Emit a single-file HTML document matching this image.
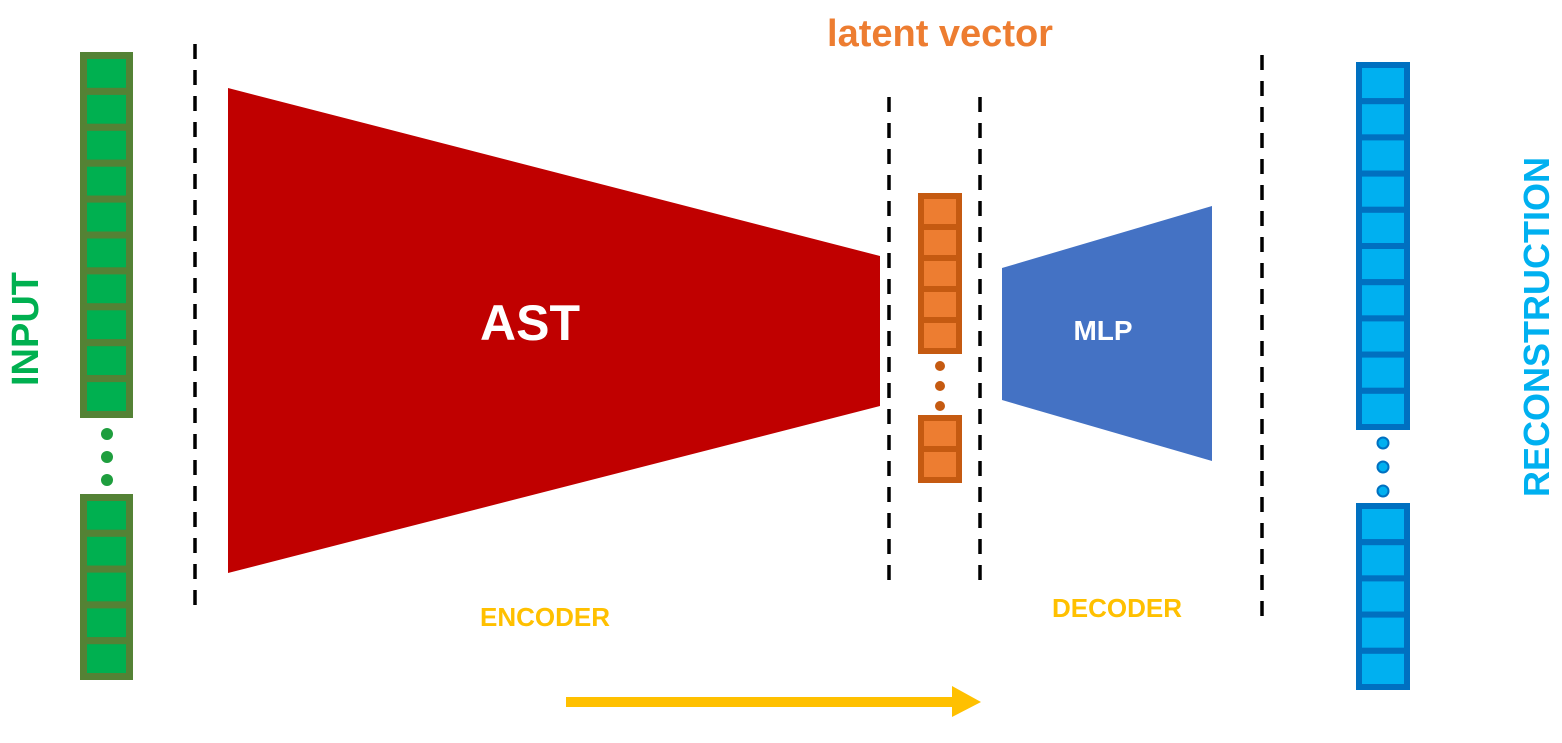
<!DOCTYPE html>
<html><head><meta charset="utf-8"><style>
html,body{margin:0;padding:0;background:#fff;}
svg{display:block;}
text{font-family:"Liberation Sans",sans-serif;font-weight:bold;}
</style></head><body>
<svg width="1562" height="743" viewBox="0 0 1562 743" xmlns="http://www.w3.org/2000/svg">
<rect width="1562" height="743" fill="#fff"/>
<g stroke="#000" stroke-width="3.5" stroke-dasharray="15,11">
<line x1="195" y1="44" x2="195" y2="610"/>
<line x1="889" y1="97" x2="889" y2="583"/>
<line x1="980" y1="97" x2="980" y2="583"/>
<line x1="1262" y1="55" x2="1262" y2="620"/>
</g>
<polygon points="228,88 880,256 880,406 228,573" fill="#c00000"/>
<text x="530" y="340" font-size="50" fill="#fff" text-anchor="middle">AST</text>
<polygon points="1002,268 1212,206 1212,461 1002,400" fill="#4472c4"/>
<text x="1103" y="340" font-size="28" fill="#fff" text-anchor="middle">MLP</text>
<g fill="#00b050" stroke="#548235" stroke-width="7">
<rect x="83.5" y="55.5" width="46" height="35.9"/><rect x="83.5" y="91.4" width="46" height="35.9"/>
<rect x="83.5" y="127.3" width="46" height="35.9"/><rect x="83.5" y="163.2" width="46" height="35.9"/>
<rect x="83.5" y="199.1" width="46" height="35.9"/><rect x="83.5" y="235" width="46" height="35.9"/>
<rect x="83.5" y="270.9" width="46" height="35.9"/><rect x="83.5" y="306.8" width="46" height="35.9"/>
<rect x="83.5" y="342.7" width="46" height="35.9"/><rect x="83.5" y="378.6" width="46" height="35.9"/>
<rect x="83.5" y="497.5" width="46" height="35.8"/><rect x="83.5" y="533.3" width="46" height="35.8"/>
<rect x="83.5" y="569.1" width="46" height="35.8"/><rect x="83.5" y="604.9" width="46" height="35.8"/>
<rect x="83.5" y="640.7" width="46" height="35.8"/>
</g>
<g fill="#1e9e3e"><circle cx="107" cy="434" r="6"/><circle cx="107" cy="457" r="6"/><circle cx="107" cy="480" r="6"/></g>
<g fill="#ed7d31" stroke="#c55a11" stroke-width="6">
<rect x="921" y="196" width="38" height="31"/><rect x="921" y="227" width="38" height="31"/>
<rect x="921" y="258" width="38" height="31"/><rect x="921" y="289" width="38" height="31"/>
<rect x="921" y="320" width="38" height="31"/>
<rect x="921" y="418" width="38" height="31"/><rect x="921" y="449" width="38" height="31"/>
</g>
<g fill="#c55a11"><circle cx="940" cy="366" r="5"/><circle cx="940" cy="386" r="5"/><circle cx="940" cy="406" r="5"/></g>
<g fill="#00b0f0" stroke="#0070c0" stroke-width="6">
<rect x="1359" y="65" width="48" height="36.2"/><rect x="1359" y="101.2" width="48" height="36.2"/>
<rect x="1359" y="137.4" width="48" height="36.2"/><rect x="1359" y="173.6" width="48" height="36.2"/>
<rect x="1359" y="209.8" width="48" height="36.2"/><rect x="1359" y="246" width="48" height="36.2"/>
<rect x="1359" y="282.2" width="48" height="36.2"/><rect x="1359" y="318.4" width="48" height="36.2"/>
<rect x="1359" y="354.6" width="48" height="36.2"/><rect x="1359" y="390.8" width="48" height="36.2"/>
<rect x="1359" y="506" width="48" height="36.2"/><rect x="1359" y="542.2" width="48" height="36.2"/>
<rect x="1359" y="578.4" width="48" height="36.2"/><rect x="1359" y="614.6" width="48" height="36.2"/>
<rect x="1359" y="650.8" width="48" height="36.2"/>
</g>
<g fill="#00b0f0" stroke="#0070c0" stroke-width="2"><circle cx="1383" cy="443" r="5.5"/><circle cx="1383" cy="467" r="5.5"/><circle cx="1383" cy="491" r="5.5"/></g>
<text x="940" y="46" font-size="38" fill="#ed7d31" text-anchor="middle">latent vector</text>
<text x="545" y="626" font-size="26" fill="#ffc000" text-anchor="middle">ENCODER</text>
<text x="1117" y="617" font-size="26" fill="#ffc000" text-anchor="middle">DECODER</text>
<text transform="translate(38,329) rotate(-90)" font-size="38" fill="#00b050" text-anchor="middle">INPUT</text>
<text transform="translate(1549,327) rotate(-90)" font-size="36" fill="#00b0f0" text-anchor="middle">RECONSTRUCTION</text>
<rect x="566" y="697" width="388" height="10" fill="#ffc000"/>
<polygon points="952,686 981,702 952,717" fill="#ffc000"/>
</svg>
</body></html>
